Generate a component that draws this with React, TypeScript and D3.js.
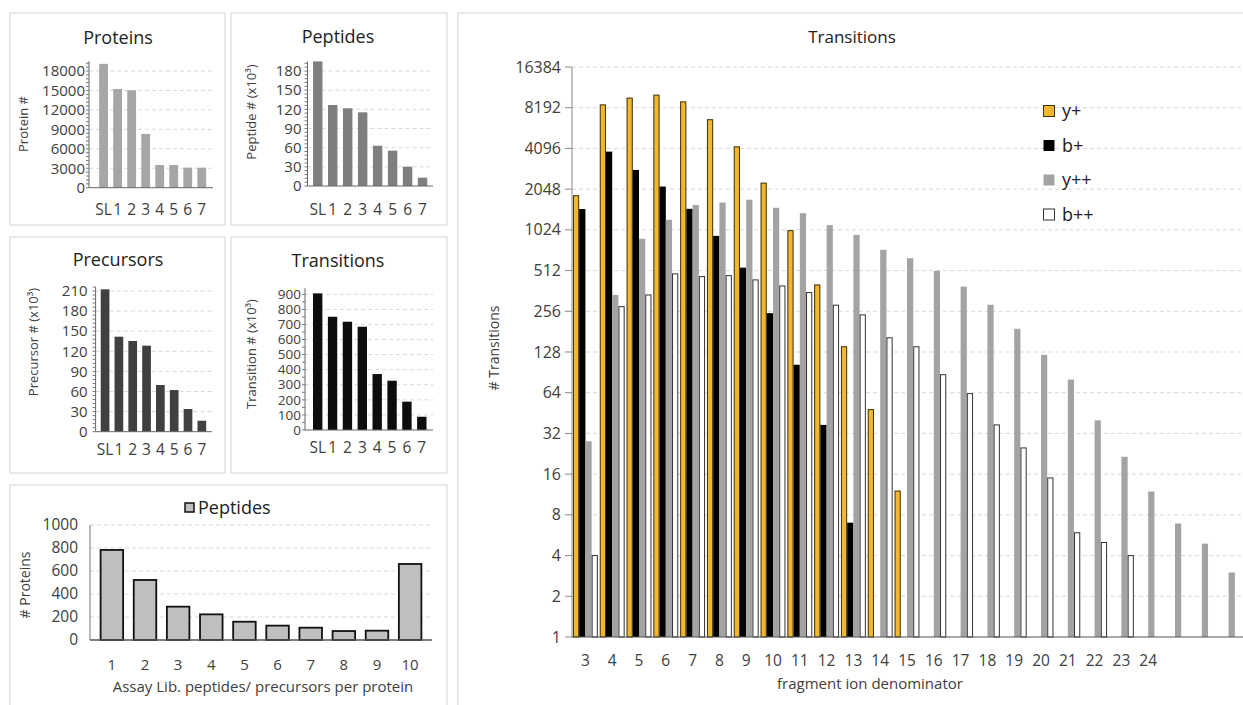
import React from 'react';
import * as d3 from 'd3';

// --- Data ---
const libCats = ['SL', '1', '2', '3', '4', '5', '6', '7'];
const proteinCounts = [19100, 15230, 15030, 8290, 3500, 3500, 3090, 3090];
const peptideCounts = [195, 126.8, 121.6, 115.3, 63, 55.3, 30.2, 13];
const precursorCounts = [212.5, 141.8, 135.4, 128.4, 69.7, 62.2, 33.9, 16.4];
const transitionCounts = [906, 751, 718, 685, 371, 327, 188, 88];

const perProteinCats = ['1', '2', '3', '4', '5', '6', '7', '8', '9', '10'];
const proteinsPerBin = [783, 522, 290, 223, 159, 125, 107, 78, 81, 661];

const fragCats = ['3', '4', '5', '6', '7', '8', '9', '10', '11', '12', '13', '14', '15', '16', '17', '18', '19', '20', '21', '22', '23', '24', '25', '26', '27'];
const fragLabels = ['3', '4', '5', '6', '7', '8', '9', '10', '11', '12', '13', '14', '15', '16', '17', '18', '19', '20', '21', '22', '23', '24', '', '', ''];
const yPlus = [1830, 8600, 9650, 10150, 9050, 6680, 4210, 2270, 1010, 401, 140, 48, 12];
const bPlus = [1460, 3880, 2840, 2140, 1465, 924, 538, 248, 103, 37, 7];
const yPlusPlus = [28, 338, 880, 1215, 1565, 1630, 1710, 1490, 1360, 1110, 940, 729, 632, 510, 390, 286, 190, 122, 80, 40, 21.5, 11.9, 6.9, 4.9, 3];
const bPlusPlus = [4, 277, 338, 484, 462, 470, 437, 394, 352, 284, 241, 163, 140, 87, 63, 37, 25, 15, 5.9, 5, 4];
const log2Ticks = [1, 2, 4, 8, 16, 32, 64, 128, 256, 512, 1024, 2048, 4096, 8192, 16384];

const FONT = '"Open Sans", "Noto Sans", sans-serif';
const TEXT = '#404040';
const GRID = '#d9d9d9';
const BORDER = '#e2e2e2';

// --- Small library bar chart ---
const SmallBars = ({ title, titleX, titleY, yTitle, yTitleX, yTitleY, values, color,
  axisX, x0, x1, gridEnd, base, topTick, topTickY, axisMax, step, minor, catY, labelGap, tickFont }) => {
  const y = d3.scaleLinear().domain([0, topTick]).range([base, topTickY]);
  const x = d3.scaleBand().domain(libCats).range([x0, x1]).padding(0.37);
  const ticks = d3.range(0, topTick + 1e-6, step);
  const minors = d3.range(0, axisMax + 1e-6, step / minor);
  return (
    <g>
      <text x={titleX} y={titleY} textAnchor="middle" fontSize={18} fill="#222">{title}</text>
      <text transform={`translate(${yTitleX},${yTitleY}) rotate(-90)`} textAnchor="middle" fontSize={13} fill={TEXT} dy="0.35em">{yTitle}</text>
      {ticks.slice(1).map(t => (
        <line key={'g' + t} x1={axisX} x2={gridEnd} y1={y(t)} y2={y(t)} stroke={GRID} strokeDasharray="4,3" />
      ))}
      {libCats.map((c, i) => (
        <rect key={c} x={x(c)} y={y(values[i])} width={x.bandwidth()} height={y(0) - y(values[i])} fill={color} />
      ))}
      <line x1={axisX} x2={axisX} y1={y(0)} y2={y(axisMax)} stroke="#666" />
      <line x1={axisX} x2={gridEnd} y1={y(0)} y2={y(0)} stroke="#666" />
      {minors.map(t => (
        <line key={'m' + t} x1={axisX - 3} x2={axisX} y1={y(t)} y2={y(t)} stroke="#777" />
      ))}
      {ticks.map(t => (
        <text key={'t' + t} x={axisX - labelGap} y={y(t)} dy="0.35em" textAnchor="end" fontSize={tickFont} fill={TEXT}>{t}</text>
      ))}
      {libCats.map(c => (
        <text key={'c' + c} x={x(c) + x.bandwidth() / 2} y={catY} textAnchor="middle" fontSize={15.5} fill={TEXT}>{c}</text>
      ))}
    </g>
  );
};

// --- Proteins per bin chart ---
const PerProtein = () => {
  const y = d3.scaleLinear().domain([0, 1000]).range([640, 525]);
  const x = d3.scaleBand().domain(perProteinCats).range([90, 432]).padding(0.32);
  const ticks = d3.range(0, 1001, 200);
  return (
    <g>
      <rect x={185} y={503} width={9} height={9} fill="#bfbfbf" stroke="#111" strokeWidth={1.5} />
      <text x={198} y={514} fontSize={18} fill="#222">Peptides</text>
      {ticks.slice(1).map(t => (
        <line key={t} x1={90} x2={432} y1={y(t)} y2={y(t)} stroke={GRID} strokeDasharray="4,3" />
      ))}
      {perProteinCats.map((c, i) => (
        <rect key={c} x={x(c)} y={y(proteinsPerBin[i])} width={x.bandwidth()} height={y(0) - y(proteinsPerBin[i])}
          fill="#bfbfbf" stroke="#111" strokeWidth={1.8} />
      ))}
      <line x1={90} x2={90} y1={525} y2={640} stroke="#777" />
      <line x1={90} x2={432} y1={640} y2={640} stroke="#555" strokeWidth={1.5} />
      {ticks.map(t => (
        <text key={'t' + t} x={78} y={y(t)} dy="0.35em" textAnchor="end" fontSize={15.5} fill={TEXT}>{t}</text>
      ))}
      {perProteinCats.map(c => (
        <text key={'c' + c} x={x(c) + x.bandwidth() / 2} y={670} textAnchor="middle" fontSize={15} fill={TEXT}>{c}</text>
      ))}
      <text x={263} y={692} textAnchor="middle" fontSize={15} fill={TEXT}>Assay Lib. peptides/ precursors per protein</text>
      <text transform="translate(25,585) rotate(-90)" textAnchor="middle" dy="0.35em" fontSize={14} fill={TEXT}># Proteins</text>
    </g>
  );
};

// --- Fragment ion transitions chart ---
const series = [
  { key: 'y+', values: yPlus, fill: '#f2b731', stroke: '#3b3000' },
  { key: 'b+', values: bPlus, fill: '#000000', stroke: 'none' },
  { key: 'y++', values: yPlusPlus, fill: '#a3a3a3', stroke: 'none' },
  { key: 'b++', values: bPlusPlus, fill: '#ffffff', stroke: '#333' },
];

const FragmentChart = () => {
  const y = d3.scaleLog().base(2).domain([1, 16384]).range([637, 67]);
  const x = d3.scaleBand().domain(fragCats).range([572, 1242]).paddingInner(0.07).paddingOuter(0.035);
  const sub = d3.scaleBand().domain(series.map(s => s.key)).range([0, x.bandwidth()]);
  return (
    <g>
      <text x={852} y={43} textAnchor="middle" fontSize={17} fill="#222">Transitions</text>
      {log2Ticks.slice(1).map(t => (
        <line key={t} x1={572} x2={1243} y1={y(t)} y2={y(t)} stroke={GRID} strokeDasharray="4,3" />
      ))}
      {series.map(s => s.values.map((v, i) => {
        const bx = x(fragCats[i]) + sub(s.key);
        const hasStroke = s.stroke !== 'none';
        return (
          <rect key={s.key + i} x={bx + (hasStroke ? 0.5 : 0)} y={y(v)} width={sub.bandwidth() - (hasStroke ? 1 : 0)}
            height={y(1) - y(v)} fill={s.fill} stroke={s.stroke} strokeWidth={1} />
        );
      }))}
      <line x1={572} x2={572} y1={y(1)} y2={y(16384)} stroke="#888" />
      <line x1={572} x2={1243} y1={y(1)} y2={y(1)} stroke="#555" strokeWidth={1.2} />
      {log2Ticks.map(t => (
        <g key={'t' + t}>
          <line x1={565} x2={572} y1={y(t)} y2={y(t)} stroke="#888" />
          <text x={561} y={y(t)} dy="0.35em" textAnchor="end" fontSize={16} fill={TEXT}>{t}</text>
        </g>
      ))}
      {fragCats.map((c, i) => (
        <text key={'c' + c} x={x(c) + x.bandwidth() / 2} y={666} textAnchor="middle" fontSize={15.5} fill={TEXT}>{fragLabels[i]}</text>
      ))}
      <text x={870} y={689} textAnchor="middle" fontSize={15} fill={TEXT}>fragment ion denominator</text>
      <text transform="translate(494,348) rotate(-90)" textAnchor="middle" dy="0.35em" fontSize={14} fill={TEXT}># Transitions</text>
      {series.map((s, i) => (
        <g key={'l' + s.key} transform={`translate(1043,${105 + i * 34.5})`}>
          <rect x={0.5} y={0.5} width={11} height={11} fill={s.fill} stroke={s.stroke === 'none' ? 'none' : s.stroke} />
          <text x={19} y={6} dy="0.35em" fontSize={18} fill="#222">{s.key}</text>
        </g>
      ))}
    </g>
  );
};

export default function App() {
  return (
    <div style={{ position: 'absolute', left: 0, top: 0 }}>
      <svg width={1243} height={705} style={{ display: 'block', background: '#fff', fontFamily: FONT }}>
        <rect x={10} y={13} width={215} height={212} fill="none" stroke={BORDER} strokeWidth={1.5} />
        <rect x={231} y={13} width={216} height={212} fill="none" stroke={BORDER} strokeWidth={1.5} />
        <rect x={10} y={237} width={215} height={236} fill="none" stroke={BORDER} strokeWidth={1.5} />
        <rect x={231} y={237} width={216} height={236} fill="none" stroke={BORDER} strokeWidth={1.5} />
        <rect x={10} y={485} width={437} height={230} fill="none" stroke={BORDER} strokeWidth={1.5} />
        <rect x={458} y={13} width={800} height={710} fill="none" stroke={BORDER} strokeWidth={1.5} />

        <SmallBars title="Proteins" titleX={118} titleY={44} yTitle="Protein #" yTitleX={23} yTitleY={124}
          values={proteinCounts} color="#a6a6a6" axisX={89} x0={94} x1={211.4} gridEnd={213}
          base={187.7} topTick={18000} topTickY={71} axisMax={19500} step={3000} minor={5} catY={215} labelGap={4} tickFont={15} />
        <SmallBars title="Peptides" titleX={338} titleY={43} yTitle="Peptide # (x10³)" yTitleX={251} yTitleY={112}
          values={peptideCounts} color="#7f7f7f" axisX={307.5} x0={307.5} x1={432.8} gridEnd={433}
          base={186} topTick={180} topTickY={71} axisMax={195} step={30} minor={5} catY={215} labelGap={6} tickFont={15} />
        <SmallBars title="Precursors" titleX={118} titleY={266} yTitle="Precursor # (x10³)" yTitleX={33} yTitleY={342}
          values={precursorCounts} color="#404040" axisX={95.6} x0={95.6} x1={211.3} gridEnd={212}
          base={431.7} topTick={210} topTickY={291} axisMax={216} step={30} minor={5} catY={455} labelGap={8} tickFont={15} />
        <SmallBars title="Transitions" titleX={338} titleY={267} yTitle="Transition # (x10³)" yTitleX={251} yTitleY={354}
          values={transitionCounts} color="#0d0d0d" axisX={305} x0={307.5} x1={432} gridEnd={433}
          base={430} topTick={900} topTickY={294.3} axisMax={940} step={100} minor={2} catY={453} labelGap={4} tickFont={13.5} />

        <PerProtein />
        <FragmentChart />
      </svg>
    </div>
  );
}
